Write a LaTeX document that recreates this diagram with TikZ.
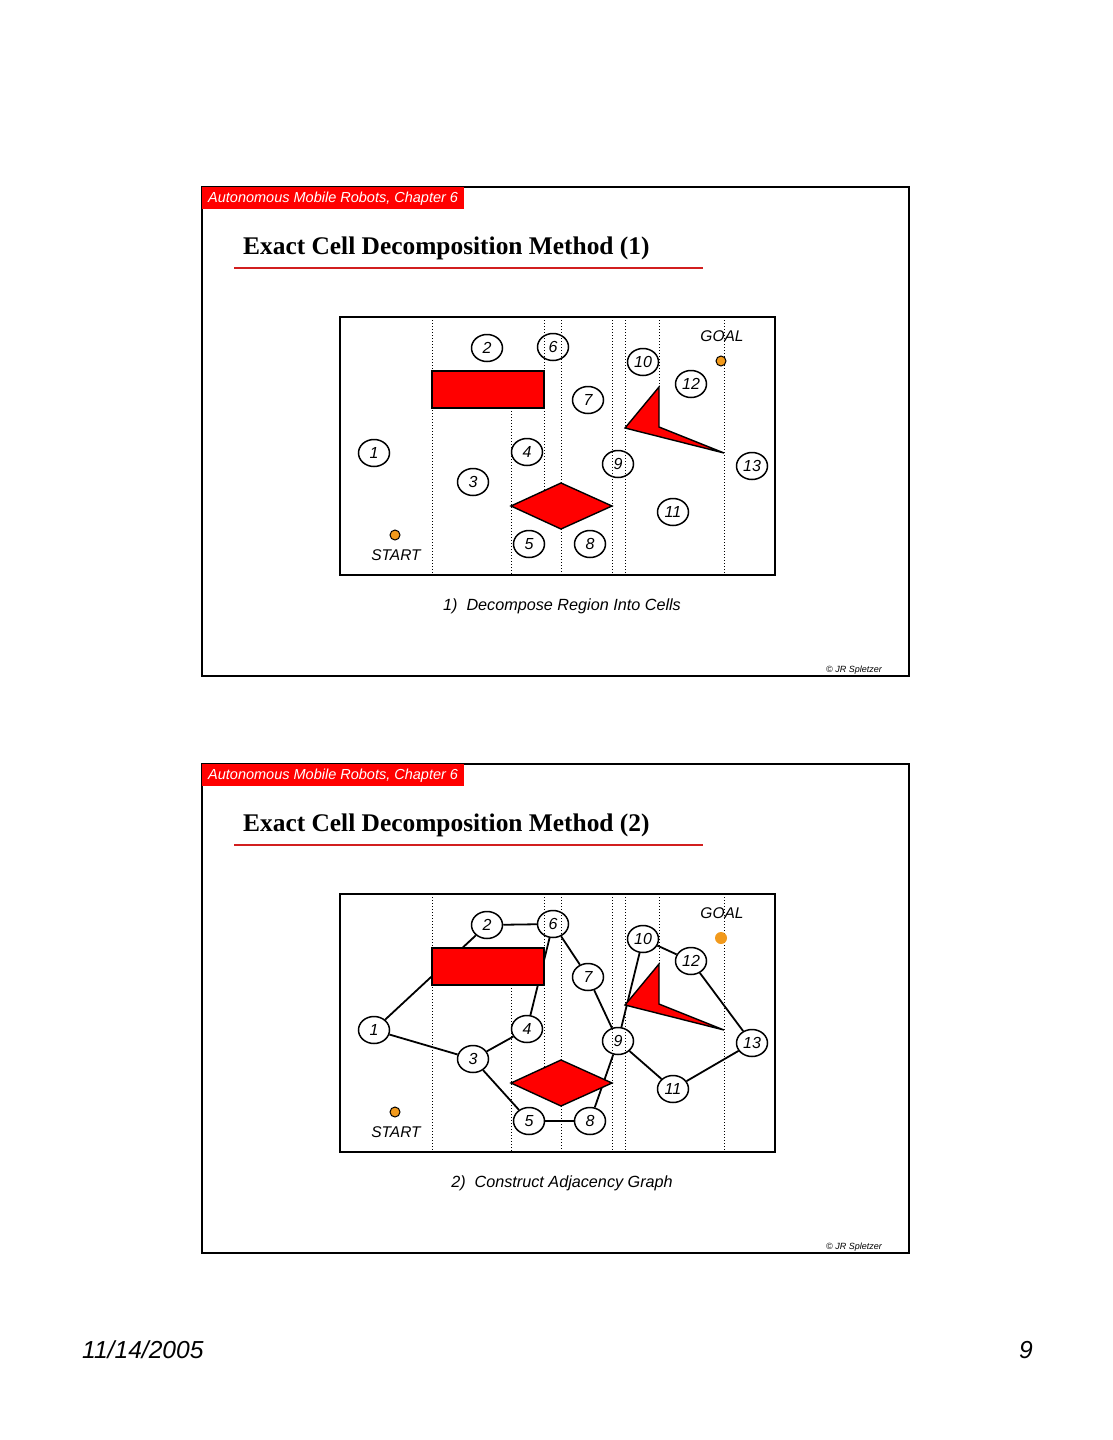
\documentclass[tikz,border=0pt]{standalone}
\usepackage{fontspec}
\setmainfont{Liberation Serif}
\setsansfont{Liberation Sans}
\usepackage{tikz}
\usetikzlibrary{backgrounds,shapes.geometric}
\definecolor{hdrred}{HTML}{FF0000}
\definecolor{linered}{HTML}{D21F1F}
\definecolor{obsred}{HTML}{FF0000}
\definecolor{ptorange}{HTML}{F29A1C}
\tikzset{
  slide/.style={draw=black,line width=2pt},
  hdr/.style={anchor=west,inner sep=0pt,text=white,
    font=\fontsize{14.5}{17}\selectfont\sffamily\itshape},
  ttl/.style={anchor=base west,inner sep=0pt,font=\fontsize{25.4}{29}\selectfont\bfseries},
  captxt/.style={inner sep=0pt,font=\fontsize{16.2}{19}\selectfont\sffamily\itshape},
  lbl/.style={inner sep=0pt,font=\fontsize{15.5}{18}\selectfont\sffamily\itshape},
  cell/.style={ellipse,draw=black,line width=1.5pt,minimum width=31pt,minimum height=27pt,
    inner sep=0pt,font=\fontsize{16}{18}\selectfont\sffamily\itshape},
  sweep/.style={line width=1pt,dash pattern=on 1pt off 2pt},
  obs/.style={fill=obsred,draw=black,line width=1.4pt,line join=miter},
  pt/.style={circle,fill=ptorange,inner sep=0pt,minimum size=11pt},
  edg/.style={line width=1.8pt},
}

\begin{document}
\begin{tikzpicture}[x=1pt,y=-1pt]
  \useasboundingbox (0,0) rectangle (1113,1440);
  \foreach \s/\off/\captext in {1/0/{1)\ \ Decompose Region Into Cells},2/577/{2)\ \ Construct Adjacency Graph}}{
    \begin{scope}[shift={(0,\off)}]
      % slide frame and header
      \draw[slide] (202,187) rectangle (909,676);
      \fill[hdrred] (202,187) rectangle (464,209);
      \node[hdr] (hdr\s) at (208,198.5) {Autonomous Mobile Robots, Chapter 6};
      \node[ttl] (ttl\s) at (243,254) {Exact Cell Decomposition Method (\s)};
      \draw[linered,line width=2pt] (234,268) -- (703,268);
      % cell boundaries
      \foreach \x/\ya/\yb in {432/317/575,511/408/575,544/317/371,544/408/491,561/317/483,
        561/529/575,612/317/575,625/317/575,659/317/387,724/317/575}
        \draw[sweep] (\x,\ya) -- (\x,\yb);
      \draw[line width=2pt] (340,317) rectangle (775,575);
      % obstacles
      \draw[obs] (432,371) rectangle (544,408);
      \draw[obs] (511,506) -- (561,483) -- (612,506) -- (561,529) -- cycle;
      \draw[obs] (659,387) -- (625,428) -- (724,453) -- (659,427) -- cycle;
      % cells
      \foreach \n/\x/\y in {1/374/453,2/487/348,3/473/482,4/527/452,5/529/544,6/553/347,7/588/400,
        8/590/544,9/618/464,10/643/362,11/673/512,12/691/384,13/752/466}
        \node[cell] (c\s-\n) at (\x,\y) {\n};
      \node[pt,draw=black,line width=1pt,minimum size=10pt] (start\s) at (395,535) {};
      \node[lbl] (startlbl\s) at (396,555) {START};
      \ifnum\s=1
        \node[pt,draw=black,line width=1pt,minimum size=10pt] (goal\s) at (721,361) {};
      \else
        \node[pt,minimum size=12pt] (goal\s) at (721,361) {};
      \fi
      \node[lbl] (goallbl\s) at (722,336) {GOAL};
      \node[captxt] (cap\s) at (562,606) {\captext};
      \node[inner sep=0pt,anchor=east,font=\fontsize{9}{10}\selectfont\sffamily\itshape] (copy\s) at (882,670) {© JR Spletzer};
    \end{scope}
  }
  % adjacency graph
  \begin{pgfonlayer}{background}
    \foreach \a/\b in {1/2,1/3,2/6,3/4,3/5,4/6,6/7,7/9,5/8,8/9,9/10,9/11,10/12,12/13,11/13}
      \draw[edg] (c2-\a) -- (c2-\b);
  \end{pgfonlayer}
  \node[anchor=base west,inner sep=0pt,font=\fontsize{24.6}{28}\selectfont\sffamily\itshape] (date) at (82,1358) {11/14/2005};
  \node[anchor=base east,inner sep=0pt,font=\fontsize{24.6}{28}\selectfont\sffamily\itshape] (pageno) at (1033,1358) {9};
\end{tikzpicture}
\end{document}
